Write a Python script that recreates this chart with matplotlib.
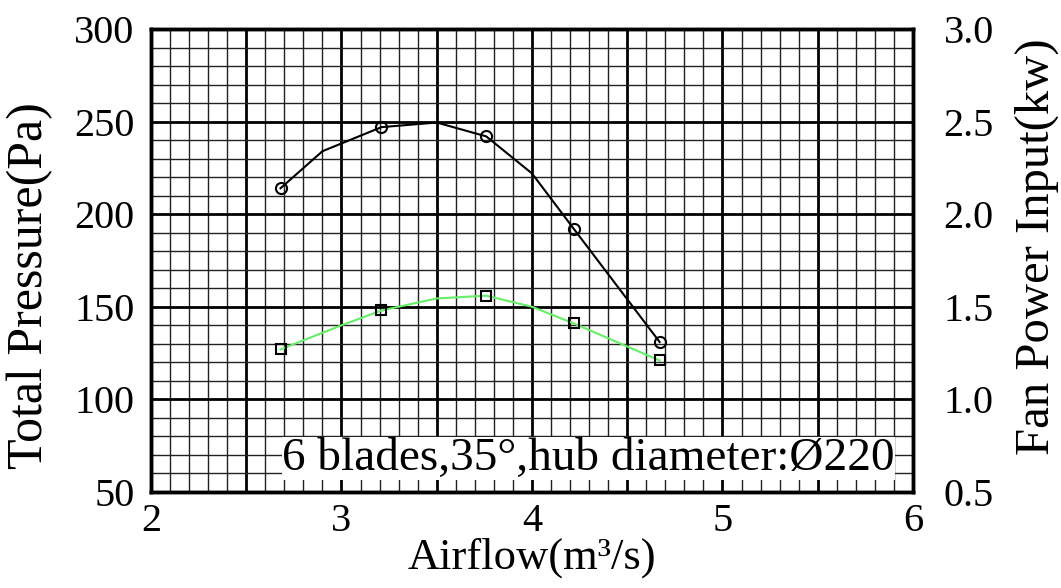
import matplotlib
matplotlib.use('Agg')
import matplotlib.pyplot as plt
from matplotlib.ticker import MultipleLocator, FuncFormatter

plt.rcParams['font.family'] = ['Liberation Serif', 'DejaVu Serif']

# 测点 (风量, 全压, 功率)
airflow = [2.68, 3.21, 3.76, 4.22, 4.67]
pressure = [214, 247, 242, 192, 131]
power = [1.27, 1.48, 1.56, 1.41, 1.21]

# 拟合曲线
p_curve_x = [2.68, 2.90, 3.21, 3.50, 3.76, 4.00, 4.22, 4.67]
p_curve_y = [214, 234, 247, 249.5, 242, 222, 192, 131]
w_curve_x = [2.68, 3.00, 3.21, 3.50, 3.76, 4.00, 4.22, 4.67]
w_curve_y = [1.27, 1.40, 1.48, 1.545, 1.56, 1.50, 1.41, 1.21]

note = '6 blades,35°,hub diameter:Ø220'

fig = plt.figure(figsize=(10.61, 5.88), dpi=100)
ax = fig.add_axes([0.1423, 0.1633, 0.7182, 0.7874])
ax.set_xlim(2, 6)
ax.set_ylim(50, 300)

# 网格
ax.xaxis.set_major_locator(MultipleLocator(0.5))
ax.xaxis.set_minor_locator(MultipleLocator(0.1))
ax.yaxis.set_major_locator(MultipleLocator(50))
ax.yaxis.set_minor_locator(MultipleLocator(10))
ax.xaxis.set_major_formatter(FuncFormatter(lambda v, p: '%d' % v if abs(v - round(v)) < 1e-6 else ''))
ax.set_axisbelow(True)
ax.grid(which='major', color='black', linewidth=2.0)
ax.grid(which='minor', color='#222222', linewidth=1.0)
ax.tick_params(which='both', length=0)
ax.tick_params(axis='y', labelsize=29, pad=12)
ax.tick_params(axis='x', labelsize=29, pad=8)
for s in ax.spines.values():
    s.set_linewidth(2.5)

ax.plot(p_curve_x, p_curve_y, color='black', linewidth=1.5, zorder=3)
ax.plot(airflow, pressure, linestyle='none', marker='o', markersize=8,
        markerfacecolor='none', markeredgecolor='black', markeredgewidth=1.5, zorder=4)

ax.text(2.69, 68, note, fontsize=34, va='center', ha='left', zorder=5,
        bbox=dict(facecolor='white', edgecolor='none', pad=0))

ax.set_xlabel('Airflow(m³/s)', fontsize=32, va='top')
ax.xaxis.set_label_coords(0.5, -0.098)
ax.set_ylabel('Total Pressure(Pa)', fontsize=36)
ax.yaxis.set_label_coords(-0.128, 0.445)

# 右轴 功率
ax2 = ax.twinx()
ax2.set_ylim(0.5, 3.0)
ax2.yaxis.set_major_locator(MultipleLocator(0.5))
ax2.yaxis.set_major_formatter(FuncFormatter(lambda v, p: '%.1f' % v))
ax2.tick_params(length=0, labelsize=29, pad=22)
for s in ax2.spines.values():
    s.set_linewidth(2.5)
ax2.plot(w_curve_x, w_curve_y, color='#66ee66', linewidth=1.5, zorder=3)
ax2.plot(airflow, power, linestyle='none', marker='s', markersize=7,
         markerfacecolor='none', markeredgecolor='black', markeredgewidth=1.5, zorder=4)
ax2.set_ylabel('Fan Power Input(kw)', fontsize=35)
ax2.yaxis.set_label_coords(1.134, 0.53)

fig.savefig('out.png', dpi=100)
